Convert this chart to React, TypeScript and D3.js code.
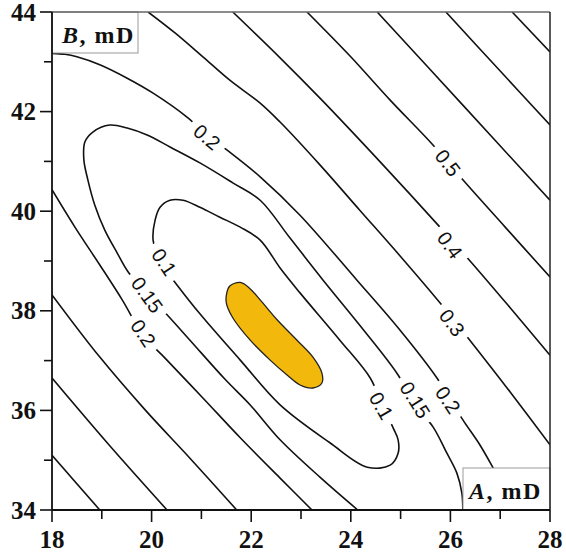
import React from 'react';
import * as d3 from 'd3';

// Axis ticks
const xTicks = [18, 20, 22, 24, 26, 28];
const yTicks = [34, 36, 38, 40, 42, 44];
const xMinor = [19, 21, 23, 25, 27];
const yMinor = [35, 37, 39, 41, 43];

// Contour lines, as [A, B] in mD
const c08 = [[27.24, 44.0], [28.0, 43.2]];
const c07 = [[25.91, 44.0], [26.94, 42.88], [28.0, 41.73]];
const c06 = [[24.53, 44.0], [26.25, 42.13], [28.0, 40.22]];
const c05 = [[23.12, 44.0], [23.98, 43.12], [24.79, 42.23], [25.65, 41.33], [26.25, 40.63], [27.1, 39.68], [28.0, 38.68]];
const c04 = [[21.63, 44.0], [22.58, 43.08], [23.42, 42.23], [24.59, 40.99], [25.79, 39.68], [26.43, 38.96], [27.2, 38.06], [28.0, 37.11]];
const c03 = [[19.93, 44.0], [20.47, 43.58], [21.03, 43.1], [21.57, 42.63], [22.18, 42.17], [22.58, 41.79], [23.38, 40.93], [24.18, 40.02], [24.99, 39.1], [25.79, 38.16], [26.39, 37.41], [27.2, 36.37], [28.0, 35.31]];
const c03Low = [[18.0, 38.32], [18.96, 37.07], [19.87, 36.01], [20.77, 35.04], [21.71, 34.0]];
const c04Low = [[18.0, 36.65], [19.16, 35.29], [20.31, 34.0]];
const c05Low = [[18.0, 35.1], [18.96, 34.0]];
const c02 = [[18.0, 43.17], [18.26, 43.15], [18.5, 43.1], [18.96, 42.94], [19.51, 42.67], [20.03, 42.37], [20.71, 41.89], [21.11, 41.53], [21.51, 41.23], [22.18, 40.69], [22.98, 39.92], [24.12, 38.62], [24.99, 37.61], [25.73, 36.65], [26.03, 36.15], [26.29, 35.75], [26.59, 35.31], [26.86, 34.84], [27.2, 34.2], [27.3, 34.0]];
const c02Low = [[18.0, 40.43], [18.46, 39.68], [18.96, 38.92], [19.41, 38.22], [19.83, 37.51], [20.27, 37.05], [21.03, 36.25], [21.78, 35.45], [22.58, 34.64], [23.22, 34.0]];
const c015 = [[24.14, 34.0], [23.38, 34.66], [22.58, 35.41], [21.98, 36.11], [21.47, 36.63], [20.77, 37.41], [20.31, 37.92], [19.93, 38.32], [19.53, 38.78], [19.31, 39.16], [19.06, 39.62], [18.86, 40.12], [18.72, 40.63], [18.64, 41.03], [18.66, 41.39], [18.82, 41.59], [19.16, 41.73], [19.51, 41.67], [19.91, 41.53], [20.37, 41.29], [20.97, 40.97], [21.63, 40.57], [22.18, 40.22], [22.78, 39.46], [23.44, 38.62], [24.18, 37.71], [24.95, 36.71], [25.25, 36.15], [25.65, 35.67], [25.93, 35.14], [26.13, 34.74], [26.23, 34.34], [26.25, 34.0]];
const c01 = [[20.03, 39.42], [20.07, 39.82], [20.17, 40.08], [20.37, 40.22], [20.63, 40.22], [20.97, 40.08], [21.37, 39.88], [21.78, 39.68], [22.18, 39.42], [22.58, 38.86], [22.98, 38.36], [23.78, 37.41], [24.39, 36.65], [24.63, 36.11], [24.85, 35.65], [24.95, 35.41], [24.95, 35.14], [24.79, 34.9], [24.33, 34.86], [23.58, 35.35], [22.58, 36.11], [21.78, 37.01], [20.97, 37.94], [20.51, 38.52], [20.17, 38.98]];
const minRegion = [[21.51, 38.36], [21.57, 38.5], [21.78, 38.57], [21.96, 38.46], [22.18, 38.22], [22.52, 37.82], [22.92, 37.41], [23.24, 37.07], [23.42, 36.75], [23.42, 36.55], [23.24, 36.45], [22.98, 36.51], [22.72, 36.71], [22.38, 37.01], [21.98, 37.41], [21.63, 37.86], [21.5, 38.16]];

const openContours = [c08, c07, c06, c05, c04, c03, c03Low, c04Low, c05Low, c02, c02Low, c015];

// Contour labels
const labelText = ['0.2', '0.1', '0.15', '0.2', '0.5', '0.4', '0.3', '0.1', '0.15', '0.2'];
const labelA = [21.11, 20.25, 19.91, 19.83, 25.95, 25.99, 26.03, 24.61, 25.29, 25.95];
const labelB = [41.49, 38.98, 38.32, 37.55, 40.97, 39.32, 37.76, 36.09, 36.21, 36.21];
const labelAngle = [40, 56, 54, 56, 52, 54, 53, 60, 58, 56];

export default function App() {
  const W = 566, H = 553;
  const x = d3.scaleLinear().domain([18, 28]).range([52, 550]);
  const y = d3.scaleLinear().domain([34, 44]).range([510, 12]);
  const line = d3.line().x((d: any) => x(d[0])).y((d: any) => y(d[1])).curve(d3.curveCatmullRom.alpha(0.5));
  const loop = d3.line().x((d: any) => x(d[0])).y((d: any) => y(d[1])).curve(d3.curveCatmullRomClosed.alpha(0.5));
  const serif = { fontFamily: "'Liberation Serif', 'Times New Roman', serif" };
  const sans = { fontFamily: "'Liberation Sans', Arial, sans-serif" };
  const labFs = 20;
  const charW = (ch: string) => (ch === '.' ? 0.278 : 0.556) * labFs;

  return (
    <svg width={W} height={H} style={{ position: 'absolute', left: 0, top: 0 }}>
      <defs>
        <clipPath id="plotArea">
          <rect x={x(18)} y={y(44)} width={x(28) - x(18)} height={y(34) - y(44)} />
        </clipPath>
      </defs>
      <rect width={W} height={H} fill="#fff" />
      <g clipPath="url(#plotArea)">
        <path d={loop(minRegion as any) || ''} fill="#F3B80C" stroke="#222" strokeWidth={1.3} />
        {openContours.map((c, i) => (
          <path key={i} d={line(c as any) || ''} fill="none" stroke="#111" strokeWidth={1.6} />
        ))}
        <path d={loop(c01 as any) || ''} fill="none" stroke="#111" strokeWidth={1.6} />
        {labelText.map((t, i) => {
          const w = t.split('').reduce((s, ch) => s + charW(ch), 0) + 14;
          return (
            <g key={i} transform={`translate(${x(labelA[i])},${y(labelB[i])}) rotate(${labelAngle[i]})`}>
              <rect x={-w / 2} y={-8} width={w} height={16} fill="#fff" />
              <text textAnchor="middle" dy="0.35em" style={sans} fontSize={labFs} fill="#111">{t}</text>
            </g>
          );
        })}
      </g>
      {/* axis title boxes */}
      <rect x={x(18)} y={y(44)} width={86} height={41} fill="#fff" stroke="#999" strokeWidth={1} />
      <text x={62} y={43} style={serif} fontSize={24} letterSpacing={1.5} fontWeight="bold" fill="#111">
        <tspan fontStyle="italic">B</tspan>, mD
      </text>
      <rect x={463} y={468} width={x(28) - 463} height={y(34) - 468} fill="#fff" stroke="#999" strokeWidth={1} />
      <text x={469} y={499} style={serif} fontSize={24} letterSpacing={1.5} fontWeight="bold" fill="#111">
        <tspan fontStyle="italic">A</tspan>, mD
      </text>
      {/* frame */}
      <line x1={x(18)} x2={x(28)} y1={y(44)} y2={y(44)} stroke="#666" strokeWidth={1.5} />
      <line x1={x(28)} x2={x(28)} y1={y(44)} y2={y(34)} stroke="#222" strokeWidth={1.5} />
      <line x1={x(18)} x2={x(18)} y1={y(44)} y2={y(34)} stroke="#111" strokeWidth={1.8} />
      <line x1={x(18)} x2={x(28)} y1={y(34)} y2={y(34)} stroke="#111" strokeWidth={1.8} />
      {/* ticks */}
      {yTicks.map((v) => (
        <g key={'y' + v}>
          <line x1={x(18) - 12} x2={x(18)} y1={y(v)} y2={y(v)} stroke="#111" strokeWidth={1.6} />
          <text x={36} y={y(v)} dy="0.34em" textAnchor="end" style={serif} fontWeight="bold" fontSize={25} fill="#111">{v}</text>
        </g>
      ))}
      {yMinor.map((v) => (
        <line key={'ym' + v} x1={x(18) - 8} x2={x(18)} y1={y(v)} y2={y(v)} stroke="#111" strokeWidth={1.6} />
      ))}
      {xTicks.map((v) => (
        <g key={'x' + v}>
          <line x1={x(v)} x2={x(v)} y1={y(34)} y2={y(34) + 12} stroke="#111" strokeWidth={1.6} />
          <text x={x(v)} y={548} textAnchor="middle" style={serif} fontWeight="bold" fontSize={25} fill="#111">{v}</text>
        </g>
      ))}
      {xMinor.map((v) => (
        <line key={'xm' + v} x1={x(v)} x2={x(v)} y1={y(34)} y2={y(34) + 9} stroke="#111" strokeWidth={1.6} />
      ))}
    </svg>
  );
}
